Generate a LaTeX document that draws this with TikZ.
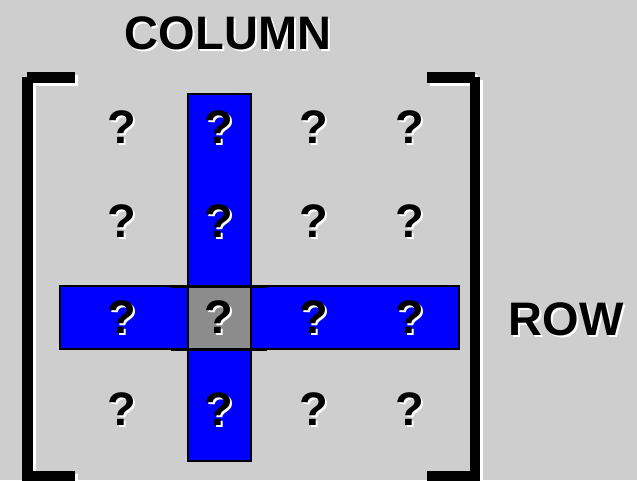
\documentclass[tikz,border=0pt]{standalone}
\usepackage{fontspec}
\setmainfont{Liberation Sans}
\definecolor{bg}{RGB}{206,206,206}
\definecolor{cellgray}{RGB}{140,140,140}
\definecolor{pureblue}{RGB}{0,0,255}
\tikzset{
  lbl/.style={font=\bfseries\fontsize{47}{47}\selectfont, inner sep=0pt, anchor=center, text=black},
  band/.style={fill=pureblue, draw=black, line width=2pt},
}
% text with a white drop shadow, as one node
\newcommand\shtext[4]{%
  \node[lbl] (#1) at (#2,#3) {\rlap{\hspace{2pt}\raisebox{-2pt}{\color{white}#4}}#4};
}
\begin{document}
\begin{tikzpicture}[x=1pt,y=-1pt]
\useasboundingbox (0,0) rectangle (637,480);
\fill[bg] (0,0) rectangle (637,480);
\clip (0,0) rectangle (637,480);
% brackets with white shadow
\foreach \dx in {2.5,0}{
  \ifdim\dx pt>0pt \def\col{white}\else\def\col{black}\fi
  \fill[\col] (27+\dx,72+\dx) rectangle (75+\dx,83+\dx);
  \fill[\col] (22+\dx,77+\dx) rectangle (33+\dx,490);
  \fill[\col] (27+\dx,471+\dx) rectangle (75+\dx,490);
  \fill[\col] (427+\dx,72+\dx) rectangle (475+\dx,83+\dx);
  \fill[\col] (470+\dx,77+\dx) rectangle (480+\dx,490);
  \fill[\col] (427+\dx,471+\dx) rectangle (475+\dx,490);
}
% column and row bands
\draw[band] (188,94) rectangle (251,461);
\draw[band] (60,286) rectangle (459,349);
\fill[pureblue] (189,280) rectangle (250,355);
\draw[black, line width=2pt] (188,280) -- (188,285);
\draw[black, line width=2pt] (251,280) -- (251,285);
\draw[black, line width=2pt] (188,350) -- (188,355);
\draw[black, line width=2pt] (251,350) -- (251,355);
% centre cell
\draw[fill=cellgray, draw=black, line width=2pt] (188,286) rectangle (251,349);
\draw[black, line width=3pt] (171,286) -- (267,286);
\draw[black, line width=3pt] (171,349) -- (267,349);
% labels
\shtext{col}{228}{34}{COLUMN}
\shtext{row}{566}{320}{ROW}
% question marks
\foreach \r/\yy in {1/128,2/222,3/318,4/410}{
  \foreach \c/\xx in {1/122,2/219,3/314,4/410}{
    \shtext{q\r\c}{\xx}{\yy}{?}
  }
}
\end{tikzpicture}
\end{document}
